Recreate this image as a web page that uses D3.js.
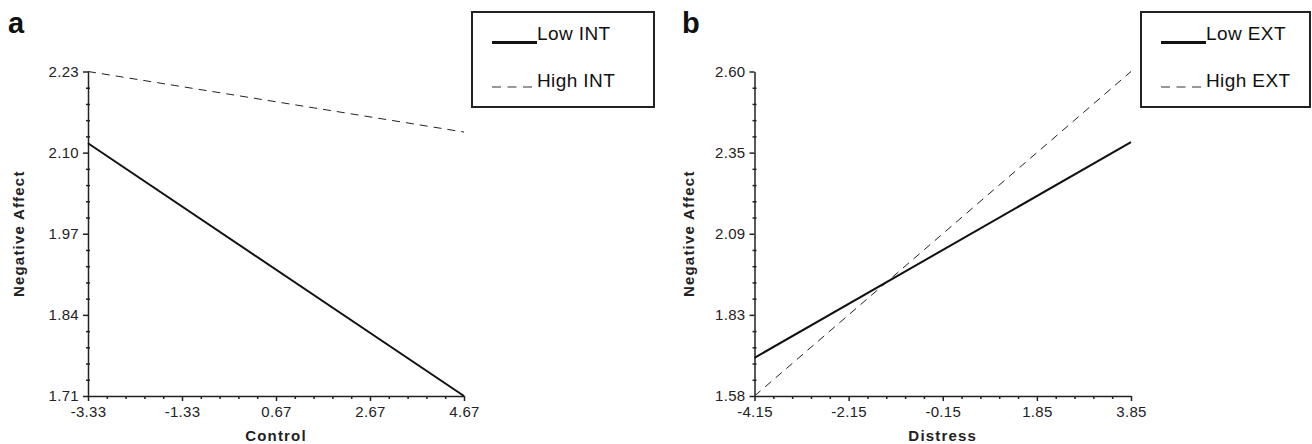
<!DOCTYPE html>
<meta charset="utf-8">
<style>
body { margin: 0; background: #fff; }
svg { font-family: "Liberation Sans", Arial, sans-serif; }
.tick text { font-size: 15px; fill: #222; letter-spacing: 0.3px; }
.axis path, .axis line { stroke: #222; stroke-width: 1.5; }
.lab { font-size: 15px; font-weight: bold; fill: #222; letter-spacing: 1.2px; }
.panel { font-size: 29px; font-weight: bold; fill: #111; }
.leg { font-size: 19px; fill: #111; letter-spacing: 0.4px; }
</style>
<svg width="1312" height="444"></svg>
<script src="https://d3js.org/d3.v7.min.js"></script>
<script>

// panel a: Control x Internalizing
var xTicksA = [-3.33, -1.33, 0.67, 2.67, 4.67],
    yTicksA = [1.71, 1.84, 1.97, 2.10, 2.23],
    yLabelsA = ["1.71", "1.84", "1.97", "2.10", "2.23"],
    xA = [-3.33, 4.67],
    lowINT = [2.115, 1.71],
    highINT = [2.23, 2.133];

// panel b: Distress x Externalizing
var xTicksB = [-4.15, -2.15, -0.15, 1.85, 3.85],
    yTicksB = [1.58, 1.835, 2.09, 2.345, 2.60],
    yLabelsB = ["1.58", "1.83", "2.09", "2.35", "2.60"],
    xB = [-4.15, 3.85],
    lowEXT = [1.70, 2.378],
    highEXT = [1.58, 2.60];

var svg = d3.select("svg");

function minors(ticks) {
  var out = [];
  for (var i = 0; i < ticks.length - 1; i++) {
    for (var k = 1; k < 5; k++) out.push(ticks[i] + (ticks[i + 1] - ticks[i]) * k / 5);
  }
  return out;
}

// plain hyphen instead of d3's unicode minus
function fmt(d) { return (d < 0 ? "-" : "") + Math.abs(d).toFixed(2); }

function panel(o) {
  var x = d3.scaleLinear().domain([o.xt[0], o.xt[o.xt.length - 1]]).range([o.left, o.right]),
      y = d3.scaleLinear().domain([o.yt[0], o.yt[o.yt.length - 1]]).range([o.bottom, o.top]);

  // minor ticks
  svg.append("g")
      .attr("class", "axis")
      .attr("transform", "translate(0," + o.bottom + ")")
      .call(d3.axisBottom(x).tickValues(minors(o.xt)).tickSize(3).tickFormat(""))
      .select(".domain").remove();
  svg.append("g")
      .attr("class", "axis")
      .attr("transform", "translate(" + (o.left + 2) + ",0)")
      .call(d3.axisLeft(y).tickValues(minors(o.yt)).tickSize(4).tickFormat(""))
      .select(".domain").remove();

  svg.append("g")
      .attr("class", "axis")
      .attr("transform", "translate(0," + o.bottom + ")")
      .call(d3.axisBottom(x).tickValues(o.xt).tickSize(5).tickPadding(5).tickSizeOuter(0)
        .tickFormat(fmt));
  svg.append("g")
      .attr("class", "axis")
      .attr("transform", "translate(" + o.left + ",0)")
      .call(d3.axisLeft(y).tickValues(o.yt).tickSize(5).tickPadding(4).tickSizeOuter(0)
        .tickFormat(function(d, i) { return o.yl[i]; }));

  var line = d3.line().x(function(d) { return x(d[0]); }).y(function(d) { return y(d[1]); });

  svg.append("path")
      .datum(o.xs.map(function(v, i) { return [v, o.dash[i]]; }))
      .attr("d", line)
      .attr("fill", "none")
      .attr("stroke", "#222")
      .attr("stroke-width", 1)
      .attr("stroke-dasharray", "8,6");
  svg.append("path")
      .datum(o.xs.map(function(v, i) { return [v, o.solid[i]]; }))
      .attr("d", line)
      .attr("fill", "none")
      .attr("stroke", "#111")
      .attr("stroke-width", 2);

  svg.append("text").attr("class", "panel").attr("x", o.tagX).attr("y", 33).text(o.tag);

  svg.append("text")
      .attr("class", "lab")
      .attr("text-anchor", "middle")
      .attr("transform", "translate(" + o.ylabX + "," + ((o.top + o.bottom) / 2) + ") rotate(-90)")
      .text("Negative Affect");
  svg.append("text")
      .attr("class", "lab")
      .attr("text-anchor", "middle")
      .attr("x", (o.left + o.right) / 2)
      .attr("y", 441)
      .text(o.xlab);

  // legend
  var lg = svg.append("g");
  lg.append("rect")
      .attr("x", o.lx).attr("y", 12).attr("width", o.lw).attr("height", 95)
      .attr("fill", "#fff").attr("stroke", "#222").attr("stroke-width", 2);
  lg.append("line")
      .attr("x1", o.lx + 20).attr("x2", o.lx + 65).attr("y1", 42.5).attr("y2", 42.5)
      .attr("stroke", "#111").attr("stroke-width", 3);
  lg.append("line")
      .attr("x1", o.lx + 20).attr("x2", o.lx + 65).attr("y1", 87).attr("y2", 87)
      .attr("stroke", "#777").attr("stroke-width", 1.5).attr("stroke-dasharray", "9,6.5");
  lg.append("text").attr("class", "leg").attr("x", o.lx + 65).attr("y", 40).text(o.names[0]);
  lg.append("text").attr("class", "leg").attr("x", o.lx + 65).attr("y", 87).text(o.names[1]);
}

panel({
  tag: "a", tagX: 8, xlab: "Control", names: ["Low INT", "High INT"],
  left: 88, right: 464, top: 71.5, bottom: 396, ylabX: 24,
  xt: xTicksA, yt: yTicksA, yl: yLabelsA,
  xs: xA, solid: lowINT, dash: highINT,
  lx: 472, lw: 182
});

panel({
  tag: "b", tagX: 682, xlab: "Distress", names: ["Low EXT", "High EXT"],
  left: 754.5, right: 1131, top: 71.5, bottom: 396, ylabX: 694,
  xt: xTicksB, yt: yTicksB, yl: yLabelsB,
  xs: xB, solid: lowEXT, dash: highEXT,
  lx: 1141, lw: 169
});

</script>
